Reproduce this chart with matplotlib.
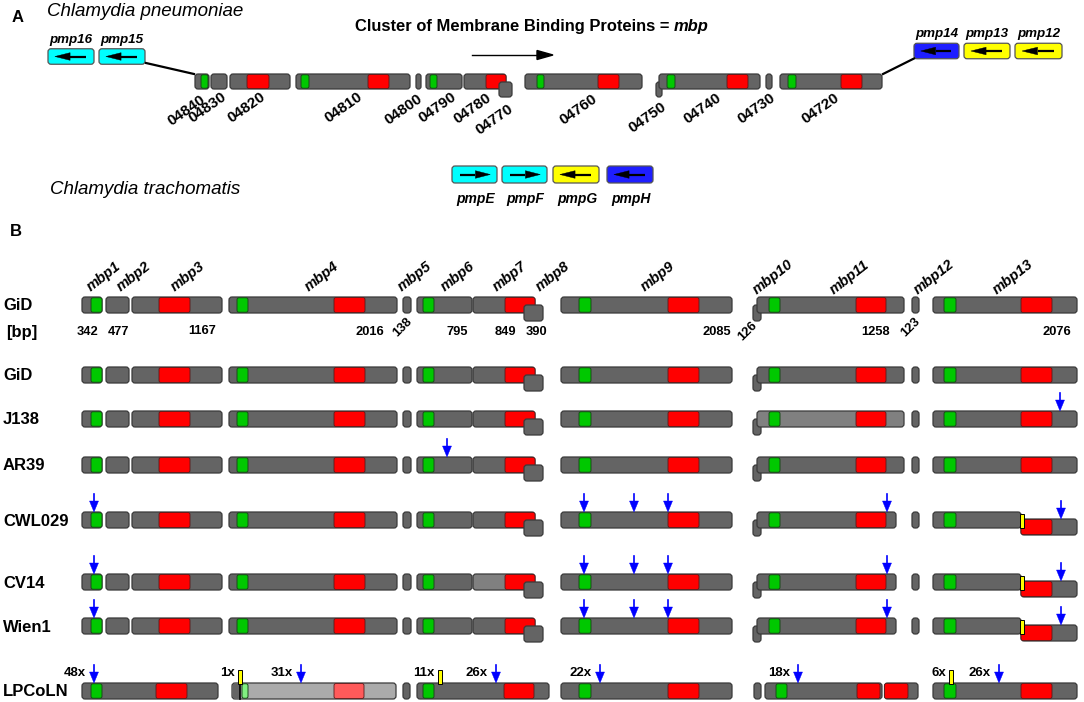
import matplotlib
matplotlib.use('Agg')
import matplotlib.pyplot as plt
from matplotlib.patches import FancyBboxPatch, Polygon, Rectangle

plt.rcParams['font.family'] = ['Liberation Sans', 'DejaVu Sans']

# ---------------- Panel A data (positions in figure pixel units) ----------------
a_genes = ['04840', '04830', '04820', '04810', '04800', '04790', '04780', '04770',
           '04760', '04750', '04740', '04730', '04720']
a_start = [195, 211, 230, 296, 416, 426, 464, 499, 525, 656, 659, 766, 780]
a_end = [209, 227, 290, 410, 421, 462, 506, 512, 642, 662, 760, 772, 882]
a_drop = [0, 0, 0, 0, 0, 0, 0, 1, 0, 1, 0, 0, 0]
a_green = [(201, 208), None, None, (301, 309), None, (430, 437), None, None,
           (537, 544), None, (667, 675), None, (788, 796)]
a_red = [None, None, (247, 269), (368, 389), None, None, (486, 506), None,
         (598, 619), None, (727, 748), None, (841, 862)]
a_label_x = [186, 207, 246, 343, 403, 437, 472, 494, 578, 647, 702, 756, 820]
a_label_y = [111, 108, 108, 108, 110, 108, 109, 120, 110, 118, 109, 109, 109]

a_pmp_names = ['pmp16', 'pmp15', 'pmp14', 'pmp13', 'pmp12']
a_pmp_start = [48, 99, 914, 964, 1015]
a_pmp_end = [94, 145, 959, 1010, 1062]
a_pmp_y = [56.5, 56.5, 51, 51, 51]
a_pmp_color = ['#00ffff', '#00ffff', '#1e1eff', '#ffff00', '#ffff00']
a_pmp_dir = [-1, -1, -1, -1, -1]

leg_names = ['pmpE', 'pmpF', 'pmpG', 'pmpH']
leg_start = [452, 502, 553, 607]
leg_end = [497, 547, 599, 653]
leg_color = ['#00ffff', '#00ffff', '#ffff00', '#1e1eff']
leg_dir = [1, 1, -1, -1]

# ---------------- Panel B data ----------------
b_genes = ['mbp1', 'mbp2', 'mbp3', 'mbp4', 'mbp5', 'mbp6', 'mbp7', 'mbp8',
           'mbp9', 'mbp10', 'mbp11', 'mbp12', 'mbp13']
b_start = [82, 106, 132, 229, 403, 417, 473, 524, 561, 753, 757, 912, 933]
b_end = [102, 129, 222, 397, 411, 472, 535, 543, 732, 761, 904, 919, 1077]
b_drop = [0, 0, 0, 0, 0, 0, 0, 1, 0, 1, 0, 0, 0]
b_green = [(91, 102), None, None, (237, 248), None, (423, 434), None, None,
           (579, 591), None, (769, 780), None, (944, 956)]
b_red = [None, None, (159, 190), (334, 365), None, None, (505, 535), None,
         (668, 699), None, (856, 886), None, (1021, 1052)]
b_len = [342, 477, 1167, 2016, 138, 795, 849, 390, 2085, 126, 1258, 123, 2076]
b_len_x = [88, 118, 202, 370, 403, 457, 505, 536, 717, 748, 876, 911, 1057]
b_len_y = [332, 332, 331, 332, 327, 332, 332, 332, 332, 331, 332, 327, 332]
b_len_rot = [0, 0, 0, 0, 45, 0, 0, 0, 0, 45, 0, 45, 0]
b_label_x = [104, 134, 188, 322, 415, 458, 510, 553, 658, 773, 850, 934, 1013]

rows = ['GiD', 'GiD', 'J138', 'AR39', 'CWL029', 'CV14', 'Wien1', 'LPCoLN']
row_y = [305, 375, 419, 465, 520, 582, 626, 691]

# strain specific features
snp_x = {'GiD': [], 'J138': [1060], 'AR39': [447],
         'CWL029': [94, 584, 634, 668, 887, 1061],
         'CV14': [94, 584, 634, 668, 887, 1061],
         'Wien1': [94, 584, 634, 668, 887, 1061]}
light_genes = {'J138': ['mbp11'], 'CV14': ['mbp7']}
short_mbp11 = {'CWL029': 896, 'CV14': 896, 'Wien1': 896}
split_mbp13 = {'CWL029': 1021, 'CV14': 1021, 'Wien1': 1021}

lp_start = [82, 232, 403, 417, 561, 754, 765, 884.5, 933]
lp_end = [218, 396, 410, 549, 732, 761, 882, 918, 1077]
lp_light = [False, True, False, False, False, False, False, False, False]
lp_green = [(91, 102), (242, 248), None, (423, 434), (579, 591), None, (776, 787), None, (944, 956)]
lp_red = [(156, 187), (334, 364), None, (504, 534), (668, 699), None, (857, 880), (884.5, 908), (1021, 1052)]
lp_snp_x = [94, 301, 496, 600, 798, 999]
lp_snp_lab = ['48x', '31x', '26x', '22x', '18x', '26x']
lp_ins_x = [240, 440, 951]
lp_ins_lab = ['1x', '11x', '6x']

# ---------------- styling ----------------
GRAY = '#646464'
LGRAY = '#808080'
PALE = '#ababab'
GREEN = '#00c800'
RED = '#ff0000'
EDGE = '#3a3a3a'

fig = plt.figure(figsize=(10.84, 7.02), dpi=100)
ax = fig.add_axes([0, 0, 1, 1])
ax.set_xlim(0, 1084)
ax.set_ylim(702, 0)
ax.axis('off')


def box(x0, x1, yc, h, fc, ec=EDGE, lw=0.9, r=3.0, z=2):
    p = FancyBboxPatch((x0, yc - h / 2), x1 - x0, h,
                       boxstyle="round,pad=0,rounding_size=%g" % min(r, (x1 - x0) / 2),
                       fc=fc, ec=ec, lw=lw, zorder=z)
    ax.add_patch(p)


def gene(x0, x1, yc, h, fc, green=None, red=None, gcol=GREEN, rcol=RED, z=2):
    box(x0, x1, yc, h, fc, z=z)
    if green:
        box(green[0], green[1], yc, h - 1.5, gcol, ec='#1a4a1a', lw=0.7, r=2, z=z + 0.1)
    if red:
        box(red[0], red[1], yc, h - 1, rcol, ec='#5a1a1a', lw=0.6, r=2, z=z + 0.1)


def box_arrow(x0, x1, yc, d):
    w = x1 - x0
    if d > 0:
        tail, tip = x0 + 0.17 * w, x0 + 0.85 * w
    else:
        tail, tip = x1 - 0.17 * w, x1 - 0.85 * w
    hl = 0.33 * w * d
    ax.plot([tail, tip - hl], [yc, yc], color='black', lw=1.6, zorder=5, solid_capstyle='butt')
    ax.add_patch(Polygon([(tip, yc), (tip - hl, yc - 3.8), (tip - hl, yc + 3.8)],
                         closed=True, fc='black', ec='black', lw=0.3, zorder=5))


def snp(x, ytip):
    ax.plot([x, x], [ytip - 18, ytip - 9], color='#0000ff', lw=1.2, zorder=6)
    ax.add_patch(Polygon([(x, ytip), (x - 4.5, ytip - 11), (x + 4.5, ytip - 11)],
                         closed=True, fc='#0000ff', ec='#0000ff', lw=0.3, zorder=6))


def insertion(x, ytop, ybot):
    ax.add_patch(Rectangle((x - 2, ytop), 4, ybot - ytop, fc='#ffff00', ec='black', lw=0.7, zorder=7))


# ---------------- Panel A ----------------
ax.text(12, 17, 'A', fontsize=12, fontweight='bold', va='center', ha='left')
ax.text(47, 12, 'Chlamydia pneumoniae', fontsize=13.5, style='italic', va='center', ha='left')
title = ax.text(355, 27, 'Cluster of Membrane Binding Proteins =', fontsize=11.9, fontweight='bold',
                va='center', ha='left')
fig.canvas.draw()
bb = title.get_window_extent()
x_after = ax.transData.inverted().transform((bb.x1, bb.y0))[0]
ax.text(x_after + 4, 27, 'mbp', fontsize=11.9, fontweight='bold', style='italic', va='center', ha='left')
ax.plot([472, 538], [55, 55], color='black', lw=1.0)
ax.add_patch(Polygon([(553, 55), (537, 50.5), (537, 59.5)], closed=True, fc='black', ec='black'))

AY, AH = 81.5, 15
for i, g in enumerate(a_genes):
    yc = AY + (8 if a_drop[i] else 0)
    z = 3 if a_drop[i] and g == '04770' else (1.5 if a_drop[i] else 2)
    gene(a_start[i], a_end[i], yc, AH, GRAY, a_green[i], a_red[i], z=z)
    ax.text(a_label_x[i], a_label_y[i], g, rotation=35, fontsize=11, fontweight='bold',
            ha='center', va='center')

for i, n in enumerate(a_pmp_names):
    box(a_pmp_start[i], a_pmp_end[i], a_pmp_y[i], 15.5, a_pmp_color[i], ec='#555555')
    box_arrow(a_pmp_start[i], a_pmp_end[i], a_pmp_y[i], a_pmp_dir[i])
    ax.text((a_pmp_start[i] + a_pmp_end[i]) / 2, a_pmp_y[i] - 17, n, fontsize=9.6,
            fontweight='bold', style='italic', ha='center', va='center')

# connector lines
ax.plot([a_pmp_end[1] + 1, a_start[0] - 1], [a_pmp_y[1] + 6.5, AY - AH / 2], color='black', lw=1.6)
ax.plot([a_end[-1] + 1, a_pmp_start[2]], [AY - AH / 2, a_pmp_y[2] + 7.5], color='black', lw=1.6)

ax.text(50, 190, 'Chlamydia trachomatis', fontsize=13.5, style='italic', va='center', ha='left')
for i, n in enumerate(leg_names):
    box(leg_start[i], leg_end[i], 174.5, 17, leg_color[i], ec='#555555')
    box_arrow(leg_start[i], leg_end[i], 174.5, leg_dir[i])
    ax.text((leg_start[i] + leg_end[i]) / 2 + 1, 199, n, fontsize=10, fontweight='bold',
            style='italic', ha='center', va='center')

# ---------------- Panel B ----------------
ax.text(10, 232, 'B', fontsize=12, fontweight='bold', va='center', ha='left')
BH = 16
for i, g in enumerate(b_genes):
    ax.text(b_label_x[i], 277, g, rotation=38, fontsize=10.5, fontweight='bold', style='italic',
            ha='center', va='center')
    ax.text(b_len_x[i], b_len_y[i], str(b_len[i]), rotation=b_len_rot[i],
            fontsize=9.3, fontweight='bold', ha='center', va='center')
ax.text(6, 332, '[bp]', fontsize=12, fontweight='bold', va='center', ha='left')

for r, (name, yc) in enumerate(zip(rows, row_y)):
    ax.text(3, yc + 1, name, fontsize=12, fontweight='bold', va='center', ha='left')
    if name == 'LPCoLN':
        continue
    lights = light_genes.get(name, [])
    for i, g in enumerate(b_genes):
        y = yc + (8 if b_drop[i] else 0)
        z = 3 if g == 'mbp8' else (1.5 if g == 'mbp10' else 2)
        fc = LGRAY if g in lights else GRAY
        x1 = b_end[i]
        red = b_red[i]
        if g == 'mbp11' and name in short_mbp11:
            x1 = short_mbp11[name]
        if g == 'mbp13' and name in split_mbp13:
            sx = split_mbp13[name]
            gene(b_start[i], sx, yc, BH, fc, b_green[i], None, z=2)
            gene(sx, x1, yc + 7, BH, fc, None, red, z=2.5)
            insertion(sx + 1, yc - 6, yc + 8)
            continue
        gene(b_start[i], x1, y, BH, fc, b_green[i], red, z=z)
    if r > 0:
        for x in snp_x.get(name, []):
            ytop = yc - BH / 2
            if name in split_mbp13 and x > split_mbp13[name]:
                ytop += 7
            snp(x, ytop)

# LPCoLN row
yc = row_y[-1]
for i in range(len(lp_start)):
    fc = PALE if lp_light[i] else GRAY
    gcol = '#80f080' if lp_light[i] else GREEN
    rcol = '#ff5a5a' if lp_light[i] else RED
    gene(lp_start[i], lp_end[i], yc, BH, fc, lp_green[i], lp_red[i], gcol=gcol, rcol=rcol)
    if lp_light[i]:
        ax.add_patch(Rectangle((lp_start[i] + 1, yc - BH / 2 + 0.8), lp_ins_x[0] - lp_start[i] - 1,
                               BH - 1.6, fc=GRAY, ec='none', zorder=2.2))
        ax.plot([lp_ins_x[0], lp_ins_x[0]], [yc - BH / 2, yc + BH / 2], color='black', lw=1.2, zorder=2.3)
for x, lab in zip(lp_snp_x, lp_snp_lab):
    snp(x, yc - BH / 2)
    ax.text(x - 8, yc - 18, lab, fontsize=9.5, fontweight='bold', ha='right', va='center')
for x, lab in zip(lp_ins_x, lp_ins_lab):
    insertion(x, yc - 21, yc - 7)
    ax.text(x - 5, yc - 18, lab, fontsize=9.5, fontweight='bold', ha='right', va='center')

fig.savefig('out.png', dpi=100)
